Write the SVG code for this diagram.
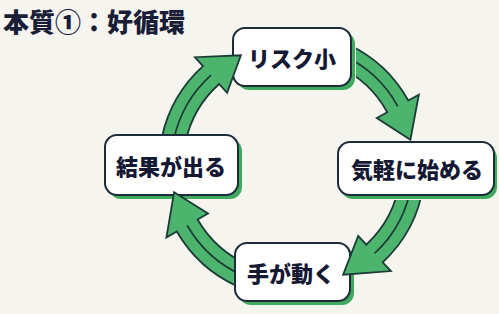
<svg xmlns="http://www.w3.org/2000/svg" width="499" height="314" viewBox="0 0 499 314">
<style>
.bg{fill:#f6f4ef}
.title{font-family:"Noto Sans CJK JP","Noto Sans",sans-serif;font-weight:900;font-size:26px;fill:#1a1d38}
.box{fill:#ffffff;stroke:#1d2c3a;stroke-width:2}
.shadow{fill:#3fa95d}
.label{font-family:"Noto Sans CJK JP","Noto Sans",sans-serif;font-weight:900;font-size:22px;fill:#141833;text-anchor:middle;dominant-baseline:central}
.arrow{fill:#4cb46c;stroke:#1c3a38;stroke-width:1.8;stroke-linejoin:miter}
.mid{fill:none;stroke:#1c3a38;stroke-width:1.7}
</style>
<defs>
<mask id="m1" maskUnits="userSpaceOnUse" x="0" y="0" width="499" height="314">
<rect width="499" height="314" fill="#fff"/>
<rect x="232" y="27" width="124" height="64" rx="12" fill="#000"/>
</mask>
<mask id="m2" maskUnits="userSpaceOnUse" x="0" y="0" width="499" height="314">
<rect width="499" height="314" fill="#fff"/>
<rect x="337" y="141" width="162" height="59" rx="12" fill="#000"/>
</mask>
<mask id="m3" maskUnits="userSpaceOnUse" x="0" y="0" width="499" height="314">
<rect width="499" height="314" fill="#fff"/>
<rect x="234" y="242" width="121" height="64" rx="12" fill="#000"/>
</mask>
<mask id="m4" maskUnits="userSpaceOnUse" x="0" y="0" width="499" height="314">
<rect width="499" height="314" fill="#fff"/>
<rect x="104" y="134" width="139" height="66" rx="12" fill="#000"/>
</mask>
</defs>
<rect class="bg" width="499" height="314"/>
<text class="title" x="3" y="32">本質①：好循環</text>

<g id="node-risk">
<rect class="shadow" x="237" y="32" width="118" height="58" rx="12"/>
<rect class="box" x="233" y="28" width="118" height="58" rx="12"/>
<text class="label" x="292" y="57">リスク小</text>
</g>
<g id="node-start">
<rect class="shadow" x="341" y="146" width="156" height="53" rx="12"/>
<rect class="box" x="338" y="142" width="156" height="53" rx="12"/>
<text class="label" x="417" y="168">気軽に始める</text>
</g>
<g id="node-act">
<rect class="shadow" x="239" y="247" width="115" height="58" rx="12"/>
<rect class="box" x="235" y="243" width="115" height="58" rx="12"/>
<text class="label" x="291" y="272">手が動く</text>
</g>
<g id="node-result">
<rect class="shadow" x="109" y="139" width="133" height="60" rx="12"/>
<rect class="box" x="105" y="135" width="133" height="60" rx="12"/>
<text class="label" x="171" y="165">結果が出る</text>
</g>

<g id="connectors">
<g id="arrow-risk-start" mask="url(#m1)">
<path class="arrow" d="M348.2,44.5 A133,133 0 0 1 408.3,100.5 L418.8,94.7 L410.4,139.8 L376.8,118.0 L387.3,112.2 A109,109 0 0 0 338.1,66.2 Z"/>
<path class="mid" d="M343.1,55.3 A121,121 0 0 1 397.8,106.3"/>
</g>
<g id="arrow-start-act" mask="url(#m2)">
<path class="arrow" d="M423.7,183.5 A133,133 0 0 1 382.7,262.3 L390.9,271.1 L343.1,274.7 L358.2,236.0 L366.3,244.7 A109,109 0 0 0 399.9,180.2 Z"/>
<path class="mid" d="M411.8,181.8 A121,121 0 0 1 374.5,253.5"/>
</g>
<g id="arrow-act-result" mask="url(#m3)">
<path class="arrow" d="M237.9,286.5 A133,133 0 0 1 176.8,231.5 L166.4,237.5 L174.1,192.2 L208.0,213.5 L197.6,219.5 A109,109 0 0 0 247.7,264.6 Z"/>
<path class="mid" d="M242.8,275.5 A121,121 0 0 1 187.2,225.5"/>
</g>
<g id="arrow-result-risk" mask="url(#m4)">
<path class="arrow" d="M161.9,137.4 A133,133 0 0 1 203.0,66.2 L195.0,57.2 L240.9,55.3 L227.1,92.9 L219.1,84.0 A109,109 0 0 0 185.4,142.3 Z"/>
<path class="mid" d="M173.7,139.8 A121,121 0 0 1 211.0,75.1"/>
</g>
</g>
</svg>
